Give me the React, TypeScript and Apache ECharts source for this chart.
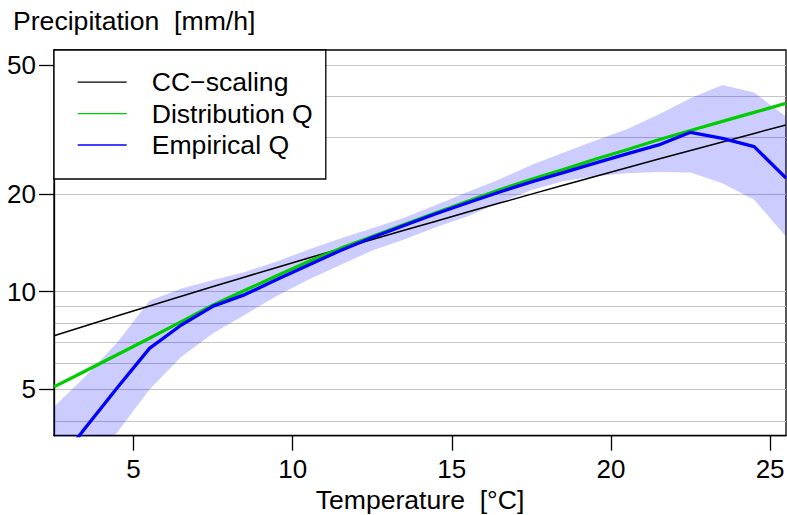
import React, { useEffect, useRef } from "react";
import * as echarts from "echarts";

// Temperature bins [°C]
const temps = [2.5, 3.5, 4.5, 5.5, 6.5, 7.5, 8.5, 9.5, 10.5, 11.5, 12.5, 13.5, 14.5, 15.5, 16.5, 17.5, 18.5, 19.5, 20.5, 21.5, 22.5, 23.5, 24.5, 25.5];
// Precipitation [mm/h]
const ccScaling = [7.32, 7.86, 8.43, 9.04, 9.69, 10.38, 11.11, 11.88, 12.7, 13.57, 14.49, 15.47, 16.5, 17.6, 18.76, 19.99, 21.29, 22.66, 24.11, 25.64, 27.26, 28.96, 30.76, 32.66];
const distributionQ = [5.09, 5.71, 6.41, 7.19, 8.09, 9.1, 10.1, 11.2, 12.4, 13.6, 14.8, 16.1, 17.5, 19.0, 20.6, 22.2, 23.8, 25.6, 27.4, 29.4, 31.4, 33.5, 35.7, 38.1];
const empiricalQ = [2.86, 3.82, 5.08, 6.69, 7.9, 9.03, 9.8, 10.9, 12.1, 13.4, 14.7, 16.0, 17.4, 18.8, 20.3, 21.8, 23.3, 24.9, 26.6, 28.35, 31.0, 29.7, 28.0, 22.4];
const bandLower = [2.2, 2.8, 3.7, 5.0, 6.3, 7.45, 8.5, 9.7, 10.9, 12.1, 13.4, 14.5, 15.8, 17.1, 18.8, 20.6, 21.9, 22.7, 23.2, 23.4, 23.3, 21.6, 19.2, 14.8];
const bandUpper = [4.42, 5.5, 7.0, 9.38, 10.24, 10.86, 11.5, 12.4, 13.5, 14.6, 15.7, 16.9, 18.5, 20.3, 22.2, 24.6, 26.8, 29.2, 31.7, 35.2, 39.5, 43.4, 41.1, 34.7];

const xTicks = [5, 10, 15, 20, 25];
const yTickLabels = [5, 10, 20, 50];
const yGridValues = [4, 5, 6, 7, 8, 9, 10, 20, 30, 40, 50];
const seriesNames = ["CC\u2212scaling", "Distribution Q", "Empirical Q"];
const seriesColors = ["#000000", "#00cd00", "#0000ff"];

const FONT = "'Liberation Sans', Arial, Helvetica, sans-serif";
const FS = 26.6;
const FS_TICK = 26;
const Y_MIN = 3.6;
const Y_MAX = 55.6;

export default function App() {
  const ref = useRef<HTMLDivElement>(null);

  useEffect(() => {
    if (!ref.current) return;
    const chart = echarts.init(ref.current, null, { renderer: "svg" });
    const fmt = (v: number) => String(Math.round(v * 100) / 100);

    const lineData = [ccScaling, distributionQ, empiricalQ];
    const widths = [1.5, 3.3, 3.3];

    chart.setOption({
      animation: false,
      backgroundColor: "#ffffff",
      title: {
        text: "Precipitation  [mm/h]",
        left: 13,
        top: 7,
        padding: 0,
        textStyle: { fontSize: FS, fontWeight: "normal", fontFamily: FONT, color: "#000" },
      },
      legend: {
        orient: "vertical",
        left: 54,
        top: 50,
        selectedMode: false,
        backgroundColor: "#ffffff",
        borderColor: "#000000",
        borderWidth: 1.3,
        borderRadius: 0,
        padding: [18.7, 13, 20.5, 23.7],
        itemWidth: 49,
        itemHeight: 1.3,
        itemGap: 4.4,
        itemStyle: { borderWidth: 0 },
        textStyle: { fontSize: FS, fontFamily: FONT, color: "#000", lineHeight: 26, padding: [0, 0, 0, 20] },
        data: seriesNames.map((n) => ({ name: n, icon: "rect" })),
      },
      grid: {
        left: 54,
        top: 50,
        right: 1,
        bottom: 79.3,
        show: true,
        borderColor: "#000",
        borderWidth: 1.3,
        backgroundColor: "transparent",
        outerBoundsMode: "none",
        containLabel: false,
      },
      xAxis: {
        type: "value",
        min: 2.5,
        max: 25.5,
        name: "Temperature  [\u00b0C]",
        nameLocation: "middle",
        nameGap: 48,
        nameTextStyle: { fontSize: FS, fontFamily: FONT, color: "#000" },
        axisLine: { show: true, lineStyle: { color: "#000", width: 1.3 } },
        axisTick: { show: true, length: 15, customValues: xTicks, lineStyle: { color: "#000", width: 1.3 } },
        axisLabel: { customValues: xTicks, margin: 20, fontSize: FS_TICK, fontFamily: FONT, color: "#000", formatter: fmt },
        splitLine: { show: false },
      },
      yAxis: [
        {
          type: "log",
          logBase: 10,
          min: Y_MIN,
          max: Y_MAX,
          position: "left",
          axisLine: { show: true, lineStyle: { color: "#000", width: 1.3 } },
          axisTick: { show: false, customValues: yGridValues },
          axisLabel: { show: false },
          splitLine: { show: true, lineStyle: { color: "#c4c4c4", width: 1.2 } },
        },
        {
          type: "log",
          logBase: 10,
          min: Y_MIN,
          max: Y_MAX,
          position: "left",
          axisLine: { show: false },
          axisTick: { show: true, length: 15, customValues: yTickLabels, lineStyle: { color: "#000", width: 1.3 } },
          axisLabel: { customValues: yTickLabels, margin: 18, fontSize: FS_TICK, fontFamily: FONT, color: "#000", formatter: fmt },
          splitLine: { show: false },
        },
      ],
      series: [
        {
          name: "band",
          type: "custom",
          clip: true,
          silent: true,
          yAxisIndex: 0,
          encode: { x: 0, y: [1, 2] },
          data: temps.map((t, i) => [t, bandLower[i], bandUpper[i]]),
          renderItem: (params: any, api: any) => {
            if (params.dataIndex !== 0) return null;
            const pts: number[][] = [];
            temps.forEach((t, i) => pts.push(api.coord([t, bandUpper[i]])));
            for (let i = temps.length - 1; i >= 0; i--) pts.push(api.coord([temps[i], bandLower[i]]));
            return { type: "polygon", shape: { points: pts }, style: { fill: "rgba(0,0,255,0.2)", stroke: "none" } };
          },
        },
        ...seriesNames.map((n, k) => ({
          name: n,
          type: "line",
          yAxisIndex: 0,
          symbol: "none",
          showSymbol: false,
          clip: true,
          silent: true,
          color: seriesColors[k],
          itemStyle: { color: seriesColors[k] },
          lineStyle: { color: seriesColors[k], width: widths[k] },
          emphasis: { disabled: true },
          data: temps.map((t, i) => [t, lineData[k][i]]),
        })),
      ],
    });

    return () => chart.dispose();
  }, []);

  return <div ref={ref} style={{ position: "absolute", left: 0, top: 0, width: 787, height: 515 }} />;
}
